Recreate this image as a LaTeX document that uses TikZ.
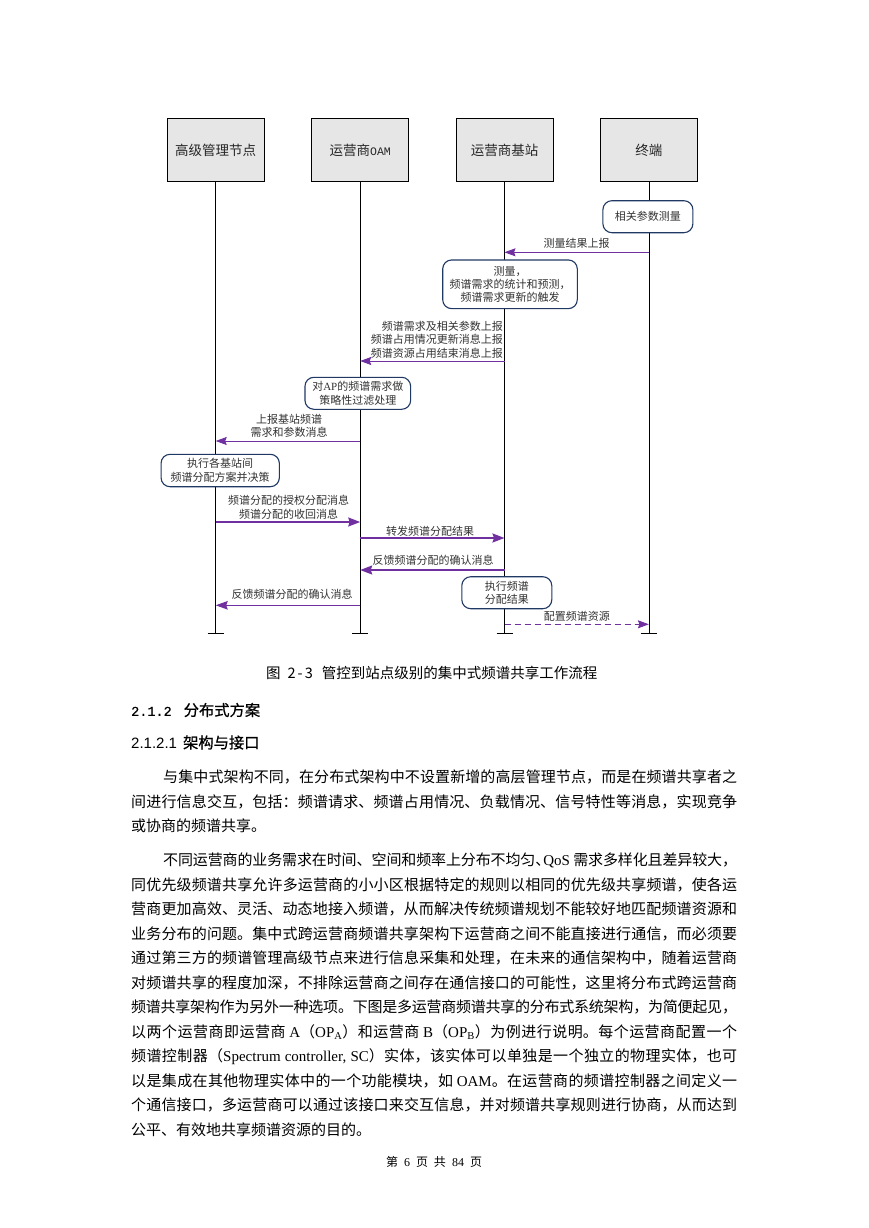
\documentclass[tikz,border=0pt]{standalone}
\usepackage{fontspec}
\setmainfont{Noto Sans CJK SC}
\newfontfamily\cjk{Noto Sans CJK SC}
\newfontfamily\hei[FakeBold=0.8]{Noto Sans CJK SC}
\newfontfamily\tnr{Liberation Serif}
\newfontfamily\mono{Liberation Mono}
\newfontfamily\monob[FakeBold=0.6]{Liberation Mono}
\newfontfamily\arial{Liberation Sans}
\XeTeXlinebreaklocale "zh"
\XeTeXlinebreakskip=0pt plus 2pt minus 1pt
\usetikzlibrary{arrows.meta}
\definecolor{msg}{HTML}{7030A0}
\definecolor{boxfill}{HTML}{E6E6E6}
\definecolor{rbox}{HTML}{1F3864}
\definecolor{dtext}{HTML}{333333}
\newcommand\bodyfont{\fontsize{15}{24.5}\selectfont}
\newcommand\jlineX[4]{\node[anchor=base west, inner sep=0pt] (#1) at (#2) {\parbox[b]{#3}{\bodyfont\tolerance=10000\parfillskip=0pt\relax #4}};}
\newcommand\plainlineX[3]{\node[anchor=base west, inner sep=0pt, font=\bodyfont] (#1) at (#2) {#3};}
\tikzset{
  lifebox/.style={draw=black, fill=boxfill, line width=0.6pt, minimum width=97pt, minimum height=63.4pt, inner sep=0pt, font=\fontsize{13.5}{15}\selectfont, text=black!85},
  actbox/.style={draw=rbox, line width=1.1pt, rounded corners=9pt, fill=white, align=center, inner sep=0pt, font=\fontsize{11}{13.4}\selectfont, text=dtext},
  lbl/.style={font=\fontsize{11}{13.6}\selectfont, align=center, inner sep=0pt, text=dtext},
  life/.style={draw=black, line width=0.7pt},
  thinmsg/.style={draw=msg, line width=0.8pt, -{Stealth[length=11pt,width=8pt,inset=1.5pt]}},
  midmsg/.style={draw=msg, line width=1.1pt, -{Stealth[length=12pt,width=8.5pt,inset=1.5pt]}},
  thickmsg/.style={draw=msg, line width=1.7pt, -{Stealth[length=12pt,width=9pt,inset=1.5pt]}},
  dashmsg/.style={draw=msg, line width=0.9pt, dash pattern=on 6pt off 4pt, -{Stealth[length=11pt,width=8pt,inset=1.5pt]}}
}
\begin{document}
\begin{tikzpicture}[x=1pt,y=-1pt]
\useasboundingbox (0,0) rectangle (869,1228);
\fill[white] (0,0) rectangle (869,1228);
% lifeline heads
\node[lifebox] (A) at (215.7,150) {高级管理节点};
\node[lifebox] (B) at (360.2,150) {运营商{\fontsize{11.5}{12}\mono OAM}};
\node[lifebox] (C) at (504.5,150) {运营商基站};
\node[lifebox] (D) at (648.9,150) {终端};
\coordinate (Ae) at (215.7,633.3);
\coordinate (Be) at (360.2,633.3);
\coordinate (Ce) at (504.5,633.3);
\coordinate (De) at (648.9,633.3);
\foreach \n in {A,B,C,D}{
  \draw[life] (\n) -- (\n e);
  \draw[life] ([xshift=-8pt]\n e) -- ([xshift=8pt]\n e);
}
% activity boxes
\node[actbox, minimum width=90pt, minimum height=32pt] (P1) at (647.9,216.7) {相关参数测量};
\node[actbox, minimum width=134.6pt, minimum height=48.7pt] (P2) at (510,284.3) {测量，\\频谱需求的统计和预测，\\频谱需求更新的触发};
\node[actbox, minimum width=105.7pt, minimum height=32pt] (P3) at (357.8,393.3) {对{\tnr AP}的频谱需求做\\策略性过滤处理};
\node[actbox, minimum width=118.3pt, minimum height=32.4pt] (P4) at (220.2,470.5) {执行各基站间\\频谱分配方案并决策};
\node[actbox, minimum width=90pt, minimum height=32pt] (P5) at (506.8,592.7) {执行频谱\\分配结果};
% messages
\draw[thinmsg] (D |- 0,252.3) -- (C |- 0,252.3);
\draw[thinmsg] (C |- 0,361) -- (B |- 0,361);
\draw[thinmsg] (B |- 0,441) -- (A |- 0,441);
\draw[thickmsg] (A |- 0,522) -- (B |- 0,522);
\draw[thickmsg] (B |- 0,538) -- (C |- 0,538);
\draw[thickmsg] (C |- 0,570) -- (B |- 0,570);
\draw[midmsg] (B |- 0,605.3) -- (A |- 0,605.3);
\draw[dashmsg] (C |- 0,624.3) -- (D |- 0,624.3);
% labels
\node[lbl] (L1) at (576.7,243.3) {测量结果上报};
\node[lbl, align=right, anchor=east] (L2) at (503,339.5) {频谱需求及相关参数上报\\频谱占用情况更新消息上报\\频谱资源占用结束消息上报};
\node[lbl] (L3) at (289,426) {上报基站频谱\\需求和参数消息};
\node[lbl] (L4) at (288.6,507.5) {频谱分配的授权分配消息\\频谱分配的收回消息};
\node[lbl] (L5) at (430,531) {转发频谱分配结果};
\node[lbl] (L6) at (433,560) {反馈频谱分配的确认消息};
\node[lbl] (L7) at (292,594) {反馈频谱分配的确认消息};
\node[lbl] (L8) at (576.8,616) {配置频谱资源};
% caption and headings
\node[anchor=west, inner sep=0pt, font=\fontsize{14.5}{15}\selectfont] (cap) at (266,673.3) {图\hspace{7pt}2\hspace{2pt}-\hspace{2pt}3\hspace{9pt}管控到站点级别的集中式频谱共享工作流程};
\node[anchor=west, inner sep=0pt] (h1) at (131,710) {{\fontsize{13.5}{14}\monob 2.1.2}\hspace{12pt}{\fontsize{15.3}{16}\hei 分布式方案}};
\node[anchor=west, inner sep=0pt] (h2) at (131,742.5) {{\fontsize{15}{16}\arial 2.1.2.1}\hspace{6pt}{\fontsize{15.3}{16}\hei 架构与接口}};
% paragraph 1
\jlineX{p1a}{163,782.7}{574pt}{与集中式架构不同，在分布式架构中不设置新增的高层管理节点，而是在频谱共享者之}
\jlineX{p1b}{131,807.2}{606pt}{间进行信息交互，包括：频谱请求、频谱占用情况、负载情况、信号特性等消息，实现竞争}
\plainlineX{p1c}{131,831.7}{或协商的频谱共享。}
% paragraph 2
\jlineX{p2a}{163,865.7}{574pt}{不同运营商的业务需求在时间、空间和频率上分布不均匀\makebox[8pt][l]{、}{\tnr QoS} 需求多样化且差异较大，}
\jlineX{p2b}{131,890.2}{606pt}{同优先级频谱共享允许多运营商的小小区根据特定的规则以相同的优先级共享频谱，使各运}
\jlineX{p2c}{131,914.7}{606pt}{营商更加高效、灵活、动态地接入频谱，从而解决传统频谱规划不能较好地匹配频谱资源和}
\jlineX{p2d}{131,939.2}{606pt}{业务分布的问题。集中式跨运营商频谱共享架构下运营商之间不能直接进行通信，而必须要}
\jlineX{p2e}{131,963.7}{606pt}{通过第三方的频谱管理高级节点来进行信息采集和处理，在未来的通信架构中，随着运营商}
\jlineX{p2f}{131,988.2}{606pt}{对频谱共享的程度加深，不排除运营商之间存在通信接口的可能性，这里将分布式跨运营商}
\jlineX{p2g}{131,1012.7}{606pt}{频谱共享架构作为另外一种选项。下图是多运营商频谱共享的分布式系统架构，为简便起见，}
\jlineX{p2h}{131,1037.2}{606pt}{以两个运营商即运营商 {\tnr A}（{\tnr OP\textsubscript{A}}）和运营商 {\tnr B}（{\tnr OP\textsubscript{B}}）为例进行说明。每个运营商配置一个}
\jlineX{p2i}{131,1061.7}{606pt}{频谱控制器（{\tnr Spectrum controller, SC}）实体，该实体可以单独是一个独立的物理实体，也可}
\jlineX{p2j}{131,1086.2}{606pt}{以是集成在其他物理实体中的一个功能模块，如 {\tnr OAM}。在运营商的频谱控制器之间定义一}
\jlineX{p2k}{131,1110.7}{606pt}{个通信接口，多运营商可以通过该接口来交互信息，并对频谱共享规则进行协商，从而达到}
\plainlineX{p2l}{131,1135.2}{公平、有效地共享频谱资源的目的。}
% footer
\node[inner sep=0pt, font=\fontsize{12}{13}\selectfont] (foot) at (434,1162) {第\hspace{6pt}{\tnr 6}\hspace{6pt}页\hspace{6pt}共\hspace{6pt}{\tnr 84}\hspace{6pt}页};
\end{tikzpicture}
\end{document}
